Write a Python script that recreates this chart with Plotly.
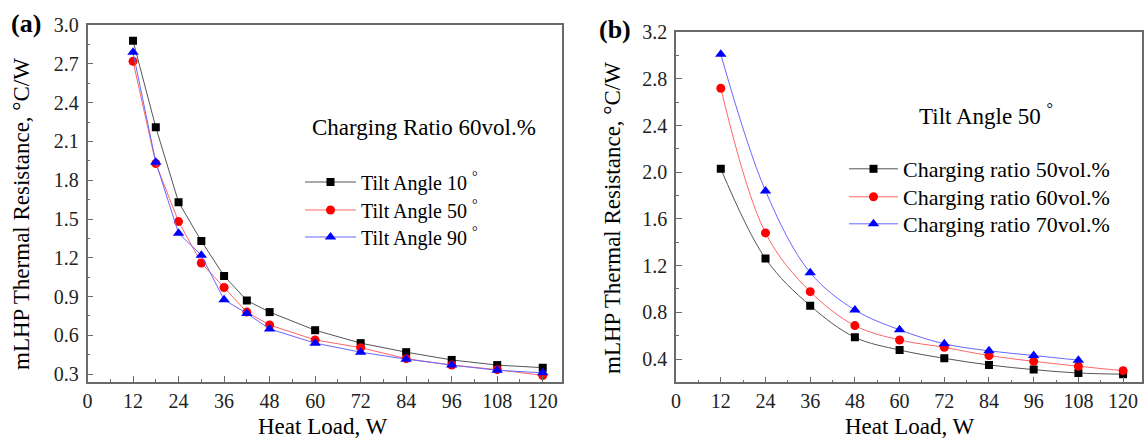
import plotly.graph_objects as go

# ---------- data ----------
load_a = [12, 18, 24, 30, 36, 42, 48, 60, 72, 84, 96, 108, 120]
tilt10 = [2.88, 2.21, 1.63, 1.33, 1.06, 0.87, 0.78, 0.64, 0.54, 0.47, 0.41, 0.37, 0.35]
tilt50 = [2.72, 1.93, 1.48, 1.16, 0.97, 0.78, 0.68, 0.565, 0.505, 0.42, 0.37, 0.335, 0.29]
tilt90 = [2.79, 1.94, 1.39, 1.22, 0.875, 0.77, 0.65, 0.54, 0.47, 0.416, 0.37, 0.33, 0.31]

load_b = [12, 24, 36, 48, 60, 72, 84, 96, 108, 120]
load_b70 = [12, 24, 36, 48, 60, 72, 84, 96, 108]
ratio50 = [2.03, 1.26, 0.857, 0.586, 0.477, 0.406, 0.349, 0.309, 0.28, 0.27]
ratio60 = [2.72, 1.48, 0.977, 0.686, 0.563, 0.50, 0.429, 0.38, 0.338, 0.30]
ratio70 = [3.01, 1.84, 1.14, 0.82, 0.65, 0.53, 0.47, 0.43, 0.39]

x_ticks = [0, 12, 24, 36, 48, 60, 72, 84, 96, 108, 120]
ya_ticks = [0.3, 0.6, 0.9, 1.2, 1.5, 1.8, 2.1, 2.4, 2.7, 3.0]
yb_ticks = [0.4, 0.8, 1.2, 1.6, 2.0, 2.4, 2.8, 3.2]

FONT = "Liberation Serif"
AX = "#6a6a6a"
W, H = 1144, 441

fig = go.Figure()

def add(x, y, name, sym, mcol, lcol, xa, ya, legend, shape, size):
    fig.add_trace(go.Scatter(
        x=x, y=y, name=name, mode="lines+markers",
        line=dict(color=lcol, width=1, shape=shape),
        marker=dict(symbol=sym, color=mcol, size=size),
        xaxis=xa, yaxis=ya, legend=legend))

DEG = "\u00a0<sup>°</sup>"
add(load_a, tilt10, "Tilt Angle 10" + DEG, "square", "black", "#555555", "x", "y", "legend", "linear", 8)
add(load_a, tilt50, "Tilt Angle 50" + DEG, "circle", "red", "#ff6666", "x", "y", "legend2", "linear", 9)
add(load_a, tilt90, "Tilt Angle 90" + DEG, "triangle-up", "blue", "#6666ff", "x", "y", "legend3", "linear", 10)

add(load_b, ratio50, "Charging ratio 50vol.%", "square", "black", "#555555", "x2", "y2", "legend4", "spline", 8)
add(load_b, ratio60, "Charging ratio 60vol.%", "circle", "red", "#ff6666", "x2", "y2", "legend5", "spline", 9)
add(load_b70, ratio70, "Charging ratio 70vol.%", "triangle-up", "blue", "#6666ff", "x2", "y2", "legend6", "spline", 10)

tickfont = dict(family=FONT, size=20, color="#222222")

def xaxis(domain, anchor):
    return dict(domain=domain, anchor=anchor, range=[0, 125], tickvals=x_ticks,
                ticks="inside", ticklen=6, tickwidth=1.2, tickcolor=AX,
                minor=dict(dtick=6, tick0=0, ticks="inside", ticklen=3, tickcolor=AX),
                showline=True, linecolor=AX, linewidth=1.5, mirror=True, automargin=False,
                showgrid=False, zeroline=False, tickfont=tickfont)

def yaxis(domain, anchor, rng, tv, minor_dt):
    return dict(domain=domain, anchor=anchor, range=rng, tickvals=tv, tickformat=".1f",
                ticks="inside", ticklen=6, tickwidth=1.2, tickcolor=AX,
                minor=dict(dtick=minor_dt, tick0=tv[0], ticks="inside", ticklen=3, tickcolor=AX),
                showline=True, linecolor=AX, linewidth=1.5, mirror=True, automargin=False,
                ticklabelstandoff=3,
                showgrid=False, zeroline=False, tickfont=tickfont)

def leg(xpx, ypx, size, iw):
    return dict(x=xpx / W, y=1 - ypx / H, xanchor="left", yanchor="middle",
                font=dict(family=FONT, size=size, color="black"),
                bgcolor="rgba(0,0,0,0)", borderwidth=0, itemwidth=iw)

fig.update_layout(
    width=W, height=H, template="none",
    margin=dict(l=0, r=0, t=0, b=0, pad=0, autoexpand=False),
    paper_bgcolor="white", plot_bgcolor="white",
    font=dict(family=FONT, color="black"),
    xaxis=xaxis([0.0765, 0.491], "y"),
    yaxis=yaxis([0.134, 0.943], "x", [0.24, 3.0], ya_ticks, 0.15),
    xaxis2=xaxis([0.591, 0.998], "y2"),
    yaxis2=yaxis([0.133, 0.927], "x2", [0.2, 3.2], yb_ticks, 0.2),
    legend=leg(300, 182, 20, 51),
    legend2=leg(300, 210, 20, 51),
    legend3=leg(300, 237, 20, 51),
    legend4=leg(844, 169, 22, 49),
    legend5=leg(844, 197, 22, 49),
    legend6=leg(844, 224, 22, 49),
    showlegend=True,
)

ann = [
    dict(text="Charging Ratio 60vol.%", x=310 / W, y=1 - 127 / H, xanchor="left", yanchor="middle",
         font=dict(family=FONT, size=23)),
    dict(text="Tilt Angle 50" + DEG, x=917 / W, y=1 - 114 / H, xanchor="left", yanchor="middle",
         font=dict(family=FONT, size=23)),
    dict(text="<b>(a)</b>", x=9 / W, y=1 - 24 / H, xanchor="left", yanchor="middle",
         font=dict(family=FONT, size=26)),
    dict(text="<b>(b)</b>", x=597 / W, y=1 - 29 / H, xanchor="left", yanchor="middle",
         font=dict(family=FONT, size=26)),
    dict(text="Heat Load, W", x=323 / W, y=0, xanchor="center", yanchor="bottom",
         font=dict(family=FONT, size=23)),
    dict(text="Heat Load, W", x=910 / W, y=0, xanchor="center", yanchor="bottom",
         font=dict(family=FONT, size=23)),
    dict(text="mLHP Thermal Resistance, °C/W", x=21 / W, y=1 - 214 / H, textangle=-90,
         xanchor="center", yanchor="middle", font=dict(family=FONT, size=23)),
    dict(text="mLHP Thermal Resistance, °C/W", x=613 / W, y=1 - 218 / H, textangle=-90,
         xanchor="center", yanchor="middle", font=dict(family=FONT, size=23)),
]
for a in ann:
    a.update(xref="paper", yref="paper", showarrow=False)
fig.update_layout(annotations=ann)

fig.write_html("out.html", config={"displayModeBar": False},
               post_script="document.body.style.margin='0';document.body.style.overflow='hidden';")
